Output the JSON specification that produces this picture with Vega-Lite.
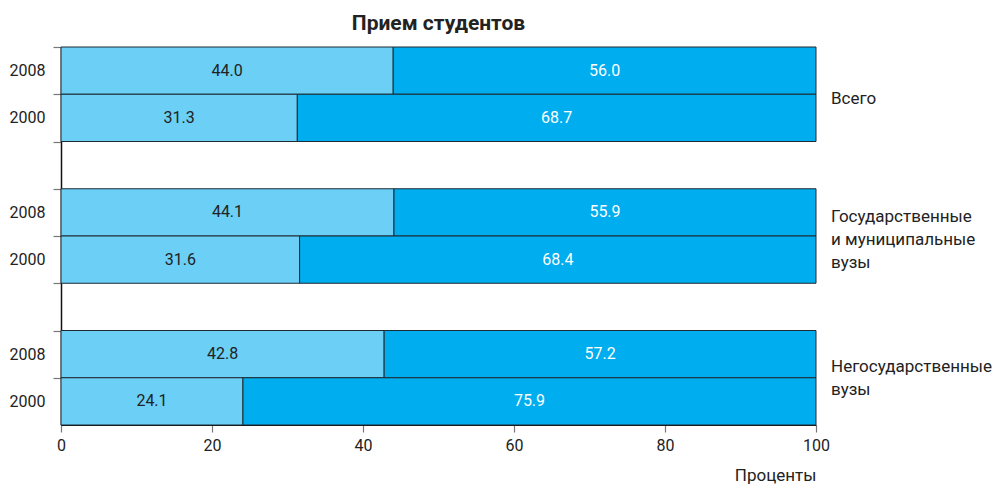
{
  "$schema": "https://vega.github.io/schema/vega-lite/v6.json",
  "width": 755,
  "height": 378,
  "autosize": {"type": "none"},
  "padding": {"left": 61, "top": 47, "right": 180, "bottom": 63},
  "background": "white",
  "title": {"text": "Прием студентов", "fontSize": 21, "font": "Roboto", "fontWeight": "bold", "color": "#222", "offset": 12, "anchor": "middle"},
  "config": {"view": {"stroke": null}, "font": "Roboto"},
  "datasets": {
    "barData": [
      {"row": "g1-2008", "cat": "A", "value": 44.0},
      {"row": "g1-2008", "cat": "B", "value": 56.0},
      {"row": "g1-2000", "cat": "A", "value": 31.3},
      {"row": "g1-2000", "cat": "B", "value": 68.7},
      {"row": "g2-2008", "cat": "A", "value": 44.1},
      {"row": "g2-2008", "cat": "B", "value": 55.9},
      {"row": "g2-2000", "cat": "A", "value": 31.6},
      {"row": "g2-2000", "cat": "B", "value": 68.4},
      {"row": "g3-2008", "cat": "A", "value": 42.8},
      {"row": "g3-2008", "cat": "B", "value": 57.2},
      {"row": "g3-2000", "cat": "A", "value": 24.1},
      {"row": "g3-2000", "cat": "B", "value": 75.9}
    ],
    "groupData": [
      {"row": "g1-2000", "label": ["Всего"]},
      {"row": "g2-2000", "label": ["Государственные", "и муниципальные", "вузы"]},
      {"row": "g3-2000", "label": ["Негосударственные", "вузы"]}
    ]
  },
  "layer": [
    {
      "data": {"name": "barData"},
      "transform": [
        {"stack": "value", "groupby": ["row"], "sort": [{"field": "cat"}], "as": ["v0", "v1"]}
      ],
      "mark": {"type": "bar", "stroke": "#1e2a33", "strokeWidth": 1},
      "encoding": {
        "y": {
          "field": "row", "type": "nominal",
          "scale": {"domain": ["g1-2008", "g1-2000", "gap1", "g2-2008", "g2-2000", "gap2", "g3-2008", "g3-2000"], "paddingInner": 0, "paddingOuter": 0},
          "axis": {
            "title": null, "tickSize": 8, "tickOffset": -23.625, "labelOffset": 23.625, "tickColor": "#777", "tickWidth": 1.2,
            "domainColor": "#111", "domainWidth": 1.5,
            "labelFontSize": 16, "labelColor": "#222", "labelPadding": 8,
            "labelExpr": "indexof(datum.value, 'gap') >= 0 ? '' : slice(datum.value, 3)"
          }
        },
        "x": {
          "field": "v0", "type": "quantitative",
          "scale": {"domain": [0, 100], "nice": false},
          "axis": {
            "values": [0, 20, 40, 60, 80, 100], "grid": false, "title": "Проценты",
            "titleFontSize": 17, "titleFontWeight": "normal", "titleColor": "#222",
            "titleAnchor": "end", "titleAlign": "right", "titlePadding": 14,
            "labelFontSize": 16, "labelColor": "#222", "labelPadding": 5, "labelFlush": false,
            "tickSize": 7, "tickColor": "#777", "tickWidth": 1.2, "domainColor": "#111", "domainWidth": 1.2
          }
        },
        "x2": {"field": "v1"},
        "color": {
          "field": "cat", "type": "nominal",
          "scale": {"domain": ["A", "B"], "range": ["#6bcff6", "#00adee"]},
          "legend": null
        }
      }
    },
    {
      "data": {"name": "barData"},
      "transform": [
        {"stack": "value", "groupby": ["row"], "sort": [{"field": "cat"}], "as": ["v0", "v1"]},
        {"calculate": "(datum.v0 + datum.v1) / 2", "as": "mid"}
      ],
      "mark": {"type": "text", "fontSize": 16, "baseline": "middle", "align": "center"},
      "encoding": {
        "y": {"field": "row", "type": "nominal"},
        "x": {"field": "mid", "type": "quantitative"},
        "text": {"field": "value", "type": "quantitative", "format": ".1f"},
        "color": {"condition": {"test": "datum.cat === 'A'", "value": "#222222"}, "value": "#ffffff"}
      }
    },
    {
      "data": {"name": "groupData"},
      "transform": [{"filter": "datum.row === 'g1-2000'"}],
      "mark": {"type": "text", "fontSize": 17, "align": "left", "baseline": "middle", "dx": 15, "dy": 5, "lineHeight": 23, "color": "#222"},
      "encoding": {
        "y": {"field": "row", "type": "nominal", "bandPosition": 0},
        "x": {"datum": 100},
        "text": {"field": "label"}
      }
    },
    {
      "data": {"name": "groupData"},
      "transform": [{"filter": "datum.row === 'g2-2000'"}],
      "mark": {"type": "text", "fontSize": 17, "align": "left", "baseline": "middle", "dx": 15, "dy": -19, "lineHeight": 23, "color": "#222"},
      "encoding": {
        "y": {"field": "row", "type": "nominal", "bandPosition": 0},
        "x": {"datum": 100},
        "text": {"field": "label"}
      }
    },
    {
      "data": {"name": "groupData"},
      "transform": [{"filter": "datum.row === 'g3-2000'"}],
      "mark": {"type": "text", "fontSize": 17, "align": "left", "baseline": "middle", "dx": 15, "dy": -11, "lineHeight": 23, "color": "#222"},
      "encoding": {
        "y": {"field": "row", "type": "nominal", "bandPosition": 0},
        "x": {"datum": 100},
        "text": {"field": "label"}
      }
    }
  ]
}
